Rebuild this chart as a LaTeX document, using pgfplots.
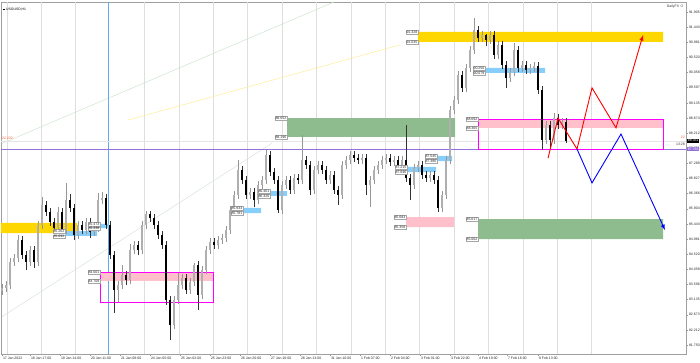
\documentclass[border=0pt]{standalone}
\usepackage{pgfplots}
\pgfplotsset{compat=1.18}
\usepackage{pgfplotstable}
\usepackage{fontspec}
\setmainfont{Liberation Sans}
\definecolor{gld}{RGB}{255,215,0}
\definecolor{grn}{RGB}{143,188,143}
\definecolor{pnk}{RGB}{255,192,203}
\definecolor{lbl}{RGB}{135,206,250}
\definecolor{mag}{RGB}{255,0,255}
\definecolor{prp}{RGB}{147,112,219}
\definecolor{vbl}{RGB}{100,168,240}
\definecolor{wick}{RGB}{150,150,150}
\definecolor{bullc}{RGB}{175,175,175}
\definecolor{gridc}{RGB}{222,222,222}
\definecolor{dg1}{RGB}{205,228,205}
\definecolor{dg2}{RGB}{215,228,215}
\definecolor{dy}{RGB}{255,236,150}
\definecolor{org}{RGB}{255,90,40}

\pgfplotstableread{
x o h l c
2 83.40 83.62 83.28 83.50
6 83.50 83.71 83.38 83.59
10 83.59 84.42 83.47 84.30
14 84.30 84.54 84.18 84.42
18 84.42 85.13 84.30 84.98
30 84.30 84.79 84.18 84.67
38 84.30 85.56 84.18 85.44
42 85.44 86.30 85.32 86.05
58 85.34 85.99 85.22 85.84
66 85.28 86.72 85.16 86.20
78 85.13 85.56 85.01 85.44
86 85.28 85.65 85.16 85.53
94 85.22 85.46 85.10 85.34
98 85.34 86.42 85.22 86.20
102 86.20 86.45 86.08 86.27
118 83.44 83.71 83.07 83.59
122 83.59 84.20 83.47 83.90
130 83.75 84.85 83.63 84.67
134 84.67 84.94 84.55 84.82
142 84.67 85.56 84.55 85.44
146 85.44 85.86 85.32 85.77
174 82.36 83.25 82.24 83.13
178 83.13 83.96 83.01 83.59
182 83.59 83.93 83.47 83.81
190 83.44 83.81 83.32 83.69
194 83.69 84.27 83.57 84.20
202 83.29 84.17 83.17 84.05
206 84.05 84.79 83.93 84.67
210 84.67 85.03 84.55 84.91
218 84.82 85.10 84.70 84.98
222 84.98 85.16 84.86 85.04
226 85.04 85.40 84.92 85.28
230 85.28 86.02 85.16 85.90
234 85.90 86.48 85.78 86.36
238 86.36 87.43 86.24 87.13
250 86.36 86.57 86.24 86.45
258 86.20 86.79 86.08 86.67
262 86.67 86.94 86.55 86.82
266 86.82 87.74 86.70 87.59
282 85.90 86.79 85.78 86.67
286 86.67 86.94 86.55 86.82
294 86.51 87.00 86.39 86.88
302 86.82 88.20 86.70 87.43
314 86.51 87.25 86.39 87.13
318 87.13 87.40 87.01 87.28
330 86.82 87.09 86.70 86.97
342 86.36 87.40 86.24 87.28
346 87.28 87.55 87.16 87.43
350 87.43 87.71 87.31 87.59
362 87.43 87.61 87.31 87.49
370 86.67 86.94 85.99 86.82
374 86.82 87.25 86.70 87.13
378 87.13 87.40 87.01 87.28
382 87.28 87.55 87.16 87.43
386 87.43 87.61 87.31 87.49
394 87.37 87.55 87.25 87.43
402 87.28 87.55 87.16 87.43
414 86.67 87.31 86.55 87.19
418 87.19 87.40 87.07 87.28
430 86.88 87.09 86.76 86.97
442 85.96 86.48 85.84 86.36
446 86.36 87.55 86.24 87.43
450 87.43 89.09 87.31 88.97
454 88.97 89.40 88.85 89.28
458 89.28 90.16 89.16 90.04
466 89.65 90.38 89.53 90.26
470 90.26 90.93 90.14 90.81
474 90.81 91.80 90.69 91.43
482 91.18 91.39 91.06 91.27
490 91.12 91.39 91.00 91.27
498 90.66 91.09 90.54 90.97
510 89.95 90.26 89.83 90.14
514 90.14 91.03 90.02 90.81
522 90.26 90.47 90.14 90.35
530 90.20 90.38 90.08 90.26
534 90.26 90.44 90.14 90.32
546 88.05 88.63 87.93 88.51
554 88.05 88.88 87.93 88.72
562 88.51 88.72 88.39 88.60
}\bull

\pgfplotstableread{
x o h l c
22 84.98 85.10 84.39 84.51
26 84.51 84.63 84.05 84.30
34 84.67 84.79 84.10 84.30
46 86.05 86.17 85.72 85.84
50 85.84 85.96 85.41 85.53
54 85.53 85.65 85.18 85.34
62 85.84 85.96 85.16 85.28
70 86.20 86.40 85.84 85.96
74 85.96 86.08 84.98 85.13
82 85.44 85.56 85.16 85.28
90 85.53 85.65 85.05 85.22
106 86.27 86.39 85.32 85.44
110 85.44 85.56 84.39 84.51
114 84.51 84.63 82.73 83.44
126 83.90 84.02 83.60 83.75
138 84.82 84.94 84.50 84.67
150 85.77 85.86 85.53 85.65
154 85.65 85.77 85.32 85.44
158 85.44 85.56 85.01 85.13
162 85.13 85.25 84.70 84.82
166 84.82 84.94 82.99 83.13
170 83.13 83.25 81.90 82.36
186 83.81 83.93 83.32 83.44
198 84.20 84.32 82.82 83.29
214 84.91 85.03 84.70 84.82
242 87.13 87.25 86.70 86.82
246 86.82 86.94 86.24 86.36
254 86.45 86.57 86.00 86.20
270 87.59 87.71 86.94 87.06
274 87.06 87.18 86.70 86.82
278 86.82 86.94 85.81 85.90
290 86.82 86.94 86.39 86.51
298 86.88 87.00 86.70 86.82
306 87.43 87.55 87.16 87.28
310 87.28 87.40 86.36 86.51
322 87.28 87.40 87.01 87.13
326 87.13 87.25 86.70 86.82
334 86.97 87.09 86.39 86.51
338 86.51 86.63 86.05 86.36
354 87.59 87.71 87.37 87.49
358 87.49 87.61 87.31 87.43
366 87.49 87.61 86.36 86.67
390 87.49 87.61 87.25 87.37
398 87.43 87.55 87.16 87.28
406 87.43 88.51 86.76 86.88
410 86.88 87.00 86.20 86.67
422 87.28 87.40 86.85 86.97
426 86.97 87.09 86.76 86.88
434 86.97 87.09 86.70 86.82
438 86.82 86.94 85.84 85.96
462 90.04 90.16 89.53 89.65
478 91.43 91.55 91.06 91.18
486 91.27 91.30 90.95 91.12
494 91.27 91.39 90.54 90.66
502 90.97 91.09 90.23 90.35
506 90.35 90.47 89.65 89.95
518 90.81 90.93 90.14 90.26
526 90.35 90.47 90.08 90.20
538 90.32 90.44 89.46 89.58
542 89.58 89.70 87.74 88.05
550 88.51 88.63 87.80 88.05
558 88.72 88.84 88.39 88.51
566 88.60 88.72 87.95 88.03
}\bear

\tikzset{plab/.style={draw=gray!70, fill=white, inner sep=0.6pt, line width=0.3pt, font=\fontsize{3.5}{4}\selectfont, text=black!85}}

\begin{document}
\begin{tikzpicture}
\path[use as bounding box] (0,0) rectangle (700pt,362pt);
\begin{axis}[
  at={(1pt,8pt)}, anchor=south west,
  width=685pt, height=352pt, scale only axis,
  xmin=1, xmax=686, ymin=81.473, ymax=92.287,
  clip=false,
  axis line style={draw=gray!75, line width=0.6pt},
  tick align=outside, major tick length=2pt,
  tick style={draw=gray!80, line width=0.4pt},
  xtick pos=bottom, ytick pos=right, yticklabel pos=right,
  xtick={2,30,60,90,120,150,180,210,240,270,300,330,360,390,420,450,478,507,538},
  xticklabels={17 Jan 2022,18 Jan 17:00,19 Jan 14:00,20 Jan 11:00,21 Jan 08:00,24 Jan 05:00,25 Jan 02:00,25 Jan 23:00,26 Jan 20:00,27 Jan 16:00,28 Jan 13:00,31 Jan 10:00,1 Feb 07:00,2 Feb 04:00,3 Feb 01:00,3 Feb 22:00,4 Feb 19:00,7 Feb 16:00,8 Feb 13:00},
  xticklabel style={font=\fontsize{3.5}{4}\selectfont, anchor=north west, inner sep=0.8pt, text=black!85},
  ytick={81.75,82.215,82.68,83.145,83.61,84.075,84.54,85.005,85.47,85.935,86.4,86.865,87.33,87.795,88.26,88.725,89.19,89.655,90.12,90.585,91.05,91.515,91.98},
  yticklabels={81.750,82.212,82.673,83.135,83.596,84.058,84.520,84.981,85.443,85.904,86.366,86.827,87.289,87.751,88.212,88.674,89.135,89.597,90.058,90.520,90.981,91.443,91.905},
  yticklabel style={font=\fontsize{3.5}{4}\selectfont, anchor=west, inner sep=0.8pt, text=black!85},
  extra x ticks={7,41.4,75.8,144.6,179,213.4,247.8,282.2,316.6,351,385.4,419.8,454.2,488.6,523,557.4,591.8},
  extra x tick labels={},
  extra x tick style={grid=major, major grid style={draw=gridc, line width=0.7pt}, major tick length=0pt},
]
% diagonal trend lines
\addplot[dg1, line width=0.5pt] coordinates {(2,87.94) (334,92.287)};
\addplot[dg2, line width=0.5pt] coordinates {(2,82.62) (272,87.95)};
\addplot[dy, line width=0.5pt] coordinates {(128,88.66) (400,90.97)};
% blue vertical line
\addplot[vbl, line width=0.8pt] coordinates {(108,81.473) (108,92.287)};
% zones
\addplot[fill=gld, draw=none] coordinates {(1,85.50) (77,85.50) (77,85.19) (1,85.19) (1,85.50)};
\addplot[fill=lbl, draw=none] coordinates {(65,85.25) (97,85.25) (97,85.10) (65,85.10) (65,85.25)};
\addplot[fill=lbl, draw=none] coordinates {(100,85.47) (109,85.47) (109,85.34) (100,85.34) (100,85.47)};
\addplot[fill=pnk, draw=none] coordinates {(100,83.99) (213,83.99) (213,83.72) (100,83.72) (100,83.99)};
\addplot[fill=lbl, draw=none] coordinates {(243,85.96) (261,85.96) (261,85.80) (243,85.80) (243,85.96)};
\addplot[fill=lbl, draw=none] coordinates {(270,86.48) (287,86.48) (287,86.33) (270,86.33) (270,86.48)};
\addplot[fill=grn, draw=none] coordinates {(287,88.72) (455,88.72) (455,88.14) (287,88.14) (287,88.72)};
\addplot[fill=lbl, draw=none] coordinates {(407,87.22) (436,87.22) (436,87.06) (407,87.06) (407,87.22)};
\addplot[fill=lbl, draw=none] coordinates {(437,87.56) (452,87.56) (452,87.40) (437,87.40) (437,87.56)};
\addplot[fill=pnk, draw=none] coordinates {(406,85.68) (454,85.68) (454,85.37) (406,85.37) (406,85.68)};
\addplot[fill=grn, draw=none] coordinates {(478,85.62) (663,85.62) (663,85.00) (478,85.00) (478,85.62)};
\addplot[fill=pnk, draw=none] coordinates {(478,88.69) (663,88.69) (663,88.42) (478,88.42) (478,88.69)};
\addplot[fill=gld, draw=none] coordinates {(418,91.37) (663,91.37) (663,91.06) (418,91.06) (418,91.37)};
\addplot[fill=lbl, draw=none] coordinates {(485,90.26) (545,90.26) (545,90.11) (485,90.11) (485,90.26)};
% horizontal lines
\addplot[gray!20, line width=0.6pt] coordinates {(1,88.02) (686,88.02)};
\addplot[prp, line width=0.7pt] coordinates {(1,87.77) (686,87.77)};
% magenta outlines
\addplot[draw=mag, line width=0.7pt] coordinates {(100,83.99) (213,83.99) (213,83.07) (100,83.07) (100,83.99)};
\addplot[draw=mag, line width=0.7pt] coordinates {(478,88.69) (663,88.69) (663,87.77) (478,87.77) (478,88.69)};
% candles: wicks
\addplot[draw=none, mark=none, error bars/.cd, y dir=plus, y explicit, error mark=none,
  error bar style={draw=wick, line width=0.5pt}]
  table[x=x, y=l, y error plus expr=\thisrow{h}-\thisrow{l}] {\bull};
\addplot[draw=none, mark=none, error bars/.cd, y dir=plus, y explicit, error mark=none,
  error bar style={draw=black!80, line width=0.5pt}]
  table[x=x, y=l, y error plus expr=\thisrow{h}-\thisrow{l}] {\bear};
% candles: bodies
\addplot[draw=none, mark=none, error bars/.cd, y dir=plus, y explicit, error mark=none,
  error bar style={draw=bullc, line width=1.6pt}]
  table[x=x, y=o, y error plus expr=\thisrow{c}-\thisrow{o}] {\bull};
\addplot[draw=none, mark=none, error bars/.cd, y dir=plus, y explicit, error mark=none,
  error bar style={draw=black, line width=1.6pt}]
  table[x=x, y=c, y error plus expr=\thisrow{o}-\thisrow{c}] {\bear};
% scenario paths
\addplot[red, line width=0.9pt, -latex] coordinates {(548,87.49) (558,88.72) (577,87.77) (592,89.65) (616,88.42) (643,91.27)};
\addplot[blue, line width=0.9pt, -latex] coordinates {(577,87.77) (592,86.73) (621,88.23) (665,85.28)};
% zone labels
\node[plab, anchor=east] at (axis cs:65,85.25) {85.262};
\node[plab, anchor=east] at (axis cs:65,85.08) {85.092};
\node[plab, anchor=east] at (axis cs:100,85.47) {85.473};
\node[plab, anchor=east] at (axis cs:100,85.32) {85.338};
\node[plab, anchor=east] at (axis cs:100,83.99) {84.001};
\node[plab, anchor=east] at (axis cs:100,83.72) {83.709};
\node[plab, anchor=east] at (axis cs:243,85.96) {85.933};
\node[plab, anchor=east] at (axis cs:243,85.80) {85.781};
\node[plab, anchor=east] at (axis cs:270,86.48) {86.461};
\node[plab, anchor=east] at (axis cs:270,86.33) {86.320};
\node[plab, anchor=east] at (axis cs:287,88.72) {88.652};
\node[plab, anchor=east] at (axis cs:287,88.14) {88.196};
\node[plab, anchor=east] at (axis cs:407,87.22) {87.215};
\node[plab, anchor=east] at (axis cs:407,87.06) {87.046};
\node[plab, anchor=east] at (axis cs:437,87.56) {87.545};
\node[plab, anchor=east] at (axis cs:437,87.40) {87.386};
\node[plab, anchor=east] at (axis cs:406,85.68) {85.683};
\node[plab, anchor=east] at (axis cs:406,85.37) {85.358};
\node[plab, anchor=east] at (axis cs:478,85.62) {85.617};
\node[plab, anchor=east] at (axis cs:478,85.00) {85.002};
\node[plab, anchor=east] at (axis cs:478,88.69) {88.692};
\node[plab, anchor=east] at (axis cs:478,88.42) {88.365};
\node[plab, anchor=east] at (axis cs:418,91.37) {91.328};
\node[plab, anchor=east] at (axis cs:418,91.06) {91.035};
\node[plab, anchor=east] at (axis cs:485,90.26) {90.250};
\node[plab, anchor=east] at (axis cs:485,90.11) {90.079};
% texts
\node[anchor=west, font=\fontsize{3.4}{4}\selectfont, inner sep=0pt] at (axis cs:3,92.06) {\rule{1.5pt}{1.5pt}\, USOUSD,H1};
\node[anchor=east, font=\fontsize{3.5}{4}\selectfont, inner sep=0pt, text=black!80] at (axis cs:684,92.16) {DailyFX $\circ$};
\node[anchor=west, font=\fontsize{3.5}{4}\selectfont, inner sep=0pt, text=org] at (axis cs:2,88.11) {22.222};
\node[anchor=east, font=\fontsize{3.5}{4}\selectfont, inner sep=0pt, text=org] at (axis cs:685,88.13) {22};
\node[anchor=east, font=\fontsize{3.5}{4}\selectfont, inner sep=0pt, text=black!80] at (axis cs:685,87.91) {13:28};
% price tags
\node[anchor=west, fill=black, text=white, inner sep=0.7pt, font=\fontsize{3.5}{4}\selectfont] at (axis cs:687,88.03) {88.031};
\node[anchor=west, fill=prp, text=white, inner sep=0.7pt, font=\fontsize{3.5}{4}\selectfont] at (axis cs:687,87.77) {87.766};
\end{axis}
\end{tikzpicture}
\end{document}
